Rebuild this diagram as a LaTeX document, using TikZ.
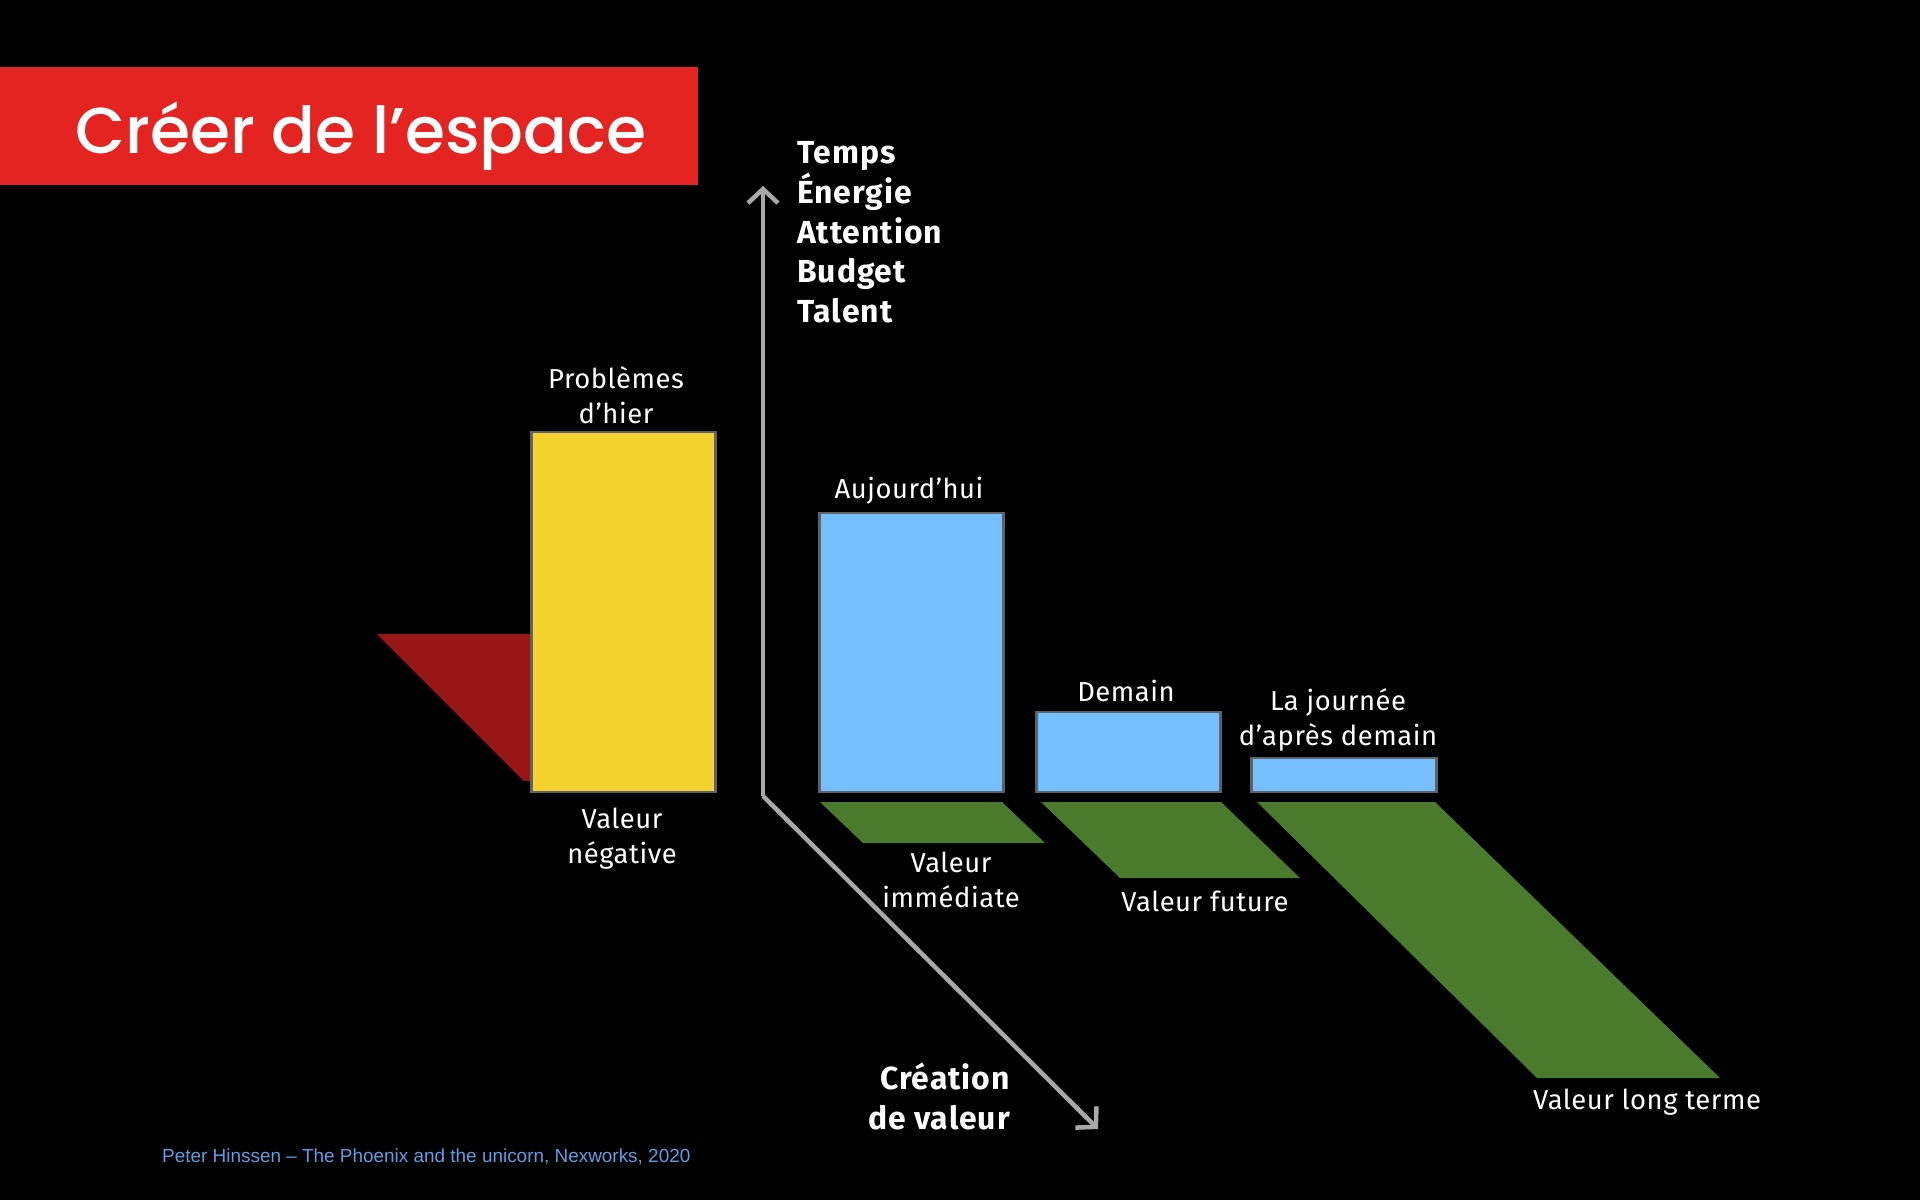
\documentclass[tikz,border=0pt]{standalone}
\usepackage{fontspec}
\setmainfont{Fira Sans}
\newfontfamily\policetitre{Poppins Medium}
\newfontfamily\policenote{Liberation Sans}
\usepackage{tikz}
\usetikzlibrary{arrows.meta,positioning}
\definecolor{fond}{HTML}{000000}
\definecolor{rougetitre}{HTML}{E42421}
\definecolor{rougeperte}{HTML}{9A1616}
\definecolor{jaune}{HTML}{F5D32E}
\definecolor{bleu}{HTML}{75BEFF}
\definecolor{vert}{HTML}{4A7B2C}
\definecolor{contour}{HTML}{5F6266}
\definecolor{gris}{HTML}{A9A9A9}
\definecolor{bleunote}{HTML}{5E9EE6}
\tikzset{
  barre/.style={rectangle,draw=contour,line width=2.5bp,inner sep=0pt,anchor=south west},
  ombre/.style={fill=vert},
  etiquette/.style={text=white,align=center,inner sep=0pt,font=\fontsize{27.5}{35}\selectfont\addfontfeature{LetterSpace=2}},
  motaxe/.style={text=white,align=left,inner sep=0pt,font=\fontsize{32}{40}\selectfont\bfseries\addfontfeature{LetterSpace=3}},
  axe/.style={draw=gris,line width=4.5bp,-{Straight Barb[length=14bp,width=30bp]}},
}

\begin{document}
\begin{tikzpicture}[x=1bp,y=-1bp]
\useasboundingbox (0,0) rectangle (1920,1200);
\fill[fond] (0,0) rectangle (1920,1200);
% titre
\fill[rougetitre] (0,67) rectangle (698,185);
\node[text=white,anchor=west,inner sep=0pt,font=\fontsize{65}{75}\selectfont\policetitre] (titre) at (75,136) {Créer de l’espace};
% valeur negative
\fill[rougeperte] (377,634) -- (531,634) -- (531,781) -- (524,781) -- cycle;
\node[barre,fill=jaune,minimum width=184bp,minimum height=360bp] (hier) at (530,793) {};
\node[etiquette] (lhier) at (616,395) {Problèmes\\d’hier};
\node[etiquette] (lneg) at (622,839) {Valeur\\négative};
% ombres
\fill[ombre] (820,802) -- (1002,802) -- (1045,843) -- (863,843) -- cycle;
\fill[ombre] (1041,802) -- (1221,802) -- (1300,878) -- (1120,878) -- cycle;
\fill[ombre] (1257,802) -- (1435,802) -- (1720,1078) -- (1537,1078) -- cycle;
% barres
\node[barre,fill=bleu,minimum width=184bp,minimum height=279bp] (auj) at (818,793) {};
\node[barre,fill=bleu,minimum width=184bp,minimum height=80bp] (dem) at (1035,793) {};
\node[barre,fill=bleu,minimum width=185bp,minimum height=34bp] (apres) at (1250,793) {};
\node[etiquette] (lauj) at (909,491) {Aujourd’hui};
\node[etiquette] (ldem) at (1126,691) {Demain};
\node[etiquette] (lapres) at (1338,720) {La journée\\d’après demain};
\node[etiquette] (limm) at (951,880) {Valeur\\immédiate};
\node[etiquette] (lfut) at (1205,901) {Valeur future};
\node[etiquette] (llong) at (1647,1102) {Valeur long terme};
% axes
\coordinate (origine) at (763,796);
\coordinate (haut) at (763,186);
\coordinate (bas) at (1098,1129);
\draw[axe] (origine) -- (haut);
\draw[axe] (origine) -- (bas);
\node[motaxe,anchor=north west] (ressources) at (797,141) {Temps\\Énergie\\Attention\\Budget\\Talent};
\node[motaxe,align=right,anchor=north east] (creation) at (1010,1063) {Création\\de valeur};
% source
\node[text=bleunote,anchor=west,inner sep=0pt,font=\fontsize{19}{21}\selectfont\policenote] (source) at (162,1157) {Peter Hinssen – The Phoenix and the unicorn, Nexworks, 2020};
\end{tikzpicture}
\end{document}
